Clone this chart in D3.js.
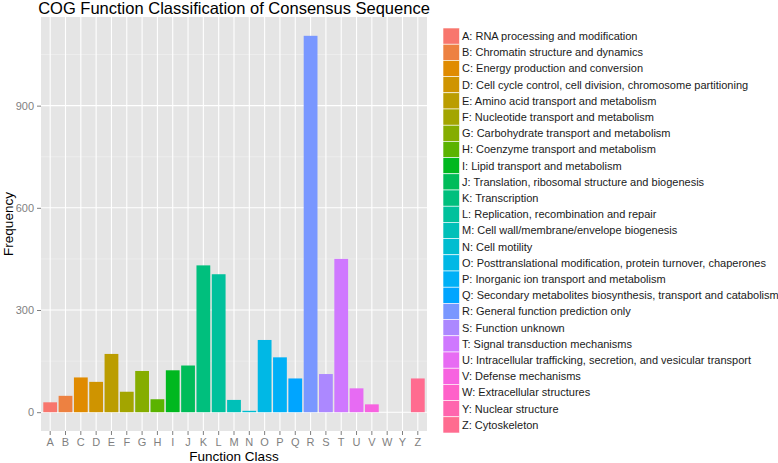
<!DOCTYPE html>
<html><head><meta charset="utf-8">
<script src="https://cdn.jsdelivr.net/npm/d3@7"></script>
<style>body{margin:0;background:#fff}text{font-family:"Liberation Sans",Arial,sans-serif}</style>
</head><body><svg id="c" width="778" height="463"></svg>
<script>
const categories = ["A","B","C","D","E","F","G","H","I","J","K","L","M","N","O","P","Q","R","S","T","U","V","W","Y","Z"];
const values = [29,48,102,89,171,60,121,38,123,137,431,405,36,4,212,161,99,1105,112,450,70,23,0,0,99];
const descriptions = [
"A: RNA processing and modification",
"B: Chromatin structure and dynamics",
"C: Energy production and conversion",
"D: Cell cycle control, cell division, chromosome partitioning",
"E: Amino acid transport and metabolism",
"F: Nucleotide transport and metabolism",
"G: Carbohydrate transport and metabolism",
"H: Coenzyme transport and metabolism",
"I: Lipid transport and metabolism",
"J: Translation, ribosomal structure and biogenesis",
"K: Transcription",
"L: Replication, recombination and repair",
"M: Cell wall/membrane/envelope biogenesis",
"N: Cell motility",
"O: Posttranslational modification, protein turnover, chaperones",
"P: Inorganic ion transport and metabolism",
"Q: Secondary metabolites biosynthesis, transport and catabolism",
"R: General function prediction only",
"S: Function unknown",
"T: Signal transduction mechanisms",
"U: Intracellular trafficking, secretion, and vesicular transport",
"V: Defense mechanisms",
"W: Extracellular structures",
"Y: Nuclear structure",
"Z: Cytoskeleton"];
const yTicks = [0,300,600,900];
const yMinor = [150,450,750,1050];

// ggplot2 hue palette (polar LUV, c=100, l=65)
function hclLuv(h,c,l){
  const Xn=95.047,Yn=100,Zn=108.883;
  const Y = l>8 ? Yn*Math.pow((l+16)/116,3) : Yn*l/903.3;
  const un=4*Xn/(Xn+15*Yn+3*Zn), vn=9*Yn/(Xn+15*Yn+3*Zn);
  const hr=h*Math.PI/180, u=c*Math.cos(hr), v=c*Math.sin(hr);
  const up=u/(13*l)+un, vp=v/(13*l)+vn;
  const X=9*Y*up/(4*vp), Z=Y*(12-3*up-20*vp)/(4*vp);
  const x=X/100,y=Y/100,z=Z/100;
  let r= 3.240479*x-1.537150*y-0.498535*z;
  let g=-0.969256*x+1.875992*y+0.041556*z;
  let b= 0.055648*x-0.204043*y+1.057311*z;
  const gam=t=>{t=t<=0.0031308?12.92*t:1.055*Math.pow(t,1/2.4)-0.055;return Math.round(255*Math.max(0,Math.min(1,t)));};
  return d3.rgb(gam(r),gam(g),gam(b)).formatHex();
}
const n=categories.length;
const colors = categories.map((d,i)=>hclLuv(15+360*i/n,100,65));

const svg=d3.select("#c");
const m={l:41,t:17,r:427,b:431};
const step=(m.r-m.l)/(n-1+1.2);
const x=d3.scaleBand().domain(categories).range([m.l+step*0.1, m.r-step*0.1]).padding(0);
const ymax=d3.max(values);
const y=d3.scaleLinear().domain([-ymax*0.05, ymax*1.05]).range([m.b,m.t]);

svg.append("rect").attr("x",m.l).attr("y",m.t).attr("width",m.r-m.l).attr("height",m.b-m.t).attr("fill","#E5E5E5");
svg.append("g").selectAll("line").data(yMinor).join("line")
  .attr("x1",m.l).attr("x2",m.r).attr("y1",d=>y(d)).attr("y2",d=>y(d)).attr("stroke","#F2F2F2").attr("stroke-width",0.6);
svg.append("g").selectAll("line").data(yTicks).join("line")
  .attr("x1",m.l).attr("x2",m.r).attr("y1",d=>y(d)).attr("y2",d=>y(d)).attr("stroke","#fff").attr("stroke-width",1.1);
svg.append("g").selectAll("line").data(categories).join("line")
  .attr("y1",m.t).attr("y2",m.b).attr("x1",d=>x(d)+x.bandwidth()/2).attr("x2",d=>x(d)+x.bandwidth()/2).attr("stroke","#fff").attr("stroke-width",1.1);

const bw=x.bandwidth()*0.9;
svg.append("g").selectAll("rect").data(values).join("rect")
  .attr("x",(d,i)=>x(categories[i])+x.bandwidth()/2-bw/2)
  .attr("width",bw)
  .attr("y",d=>y(d)).attr("height",d=>y(0)-y(d))
  .attr("fill",(d,i)=>colors[i]);

// axes
const xa=d3.axisBottom(x).tickSize(4).tickPadding(3);
const gx=svg.append("g").attr("transform",`translate(0,${m.b})`).call(xa);
const ya=d3.axisLeft(y).tickValues(yTicks).tickSize(4).tickPadding(3);
const gy=svg.append("g").attr("transform",`translate(${m.l},0)`).call(ya);
[gx,gy].forEach(g=>{g.select(".domain").remove();g.selectAll(".tick line").attr("stroke","#7F7F7F");
  g.selectAll(".tick text").attr("fill","#7F7F7F").style("font-size","11px").style("font-family","Liberation Sans, Arial, sans-serif");});

svg.append("text").attr("x",(m.l+m.r)/2).attr("y",14).attr("text-anchor","middle").style("font-size","16.5px").attr("fill","#000").text("COG Function Classification of Consensus Sequence");
svg.append("text").attr("x",(m.l+m.r)/2).attr("y",461).attr("text-anchor","middle").style("font-size","13.5px").attr("fill","#000").text("Function Class");
svg.append("text").attr("transform",`translate(13,${(m.t+m.b)/2}) rotate(-90)`).attr("text-anchor","middle").style("font-size","13.5px").attr("fill","#000").text("Frequency");

// legend
const lg=svg.append("g").attr("transform","translate(443,28)");
const kh=16.2;
lg.selectAll("rect").data(descriptions).join("rect")
  .attr("x",0).attr("y",(d,i)=>i*kh).attr("width",16.5).attr("height",kh)
  .attr("fill",(d,i)=>colors[i]).attr("stroke","#fff").attr("stroke-width",0.6);
lg.selectAll("text").data(descriptions).join("text")
  .attr("x",19).attr("y",(d,i)=>i*kh+kh/2).attr("dy","0.35em")
  .style("font-size","11px").attr("fill","#1a1a1a").text(d=>d);
</script></body></html>
